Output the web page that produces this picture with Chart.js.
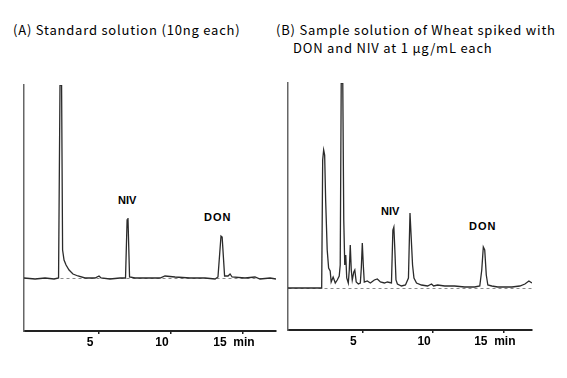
<!DOCTYPE html>
<html>
<head>
<meta charset="utf-8">
<script src="https://cdn.jsdelivr.net/npm/chart.js@4.4.1/dist/chart.umd.min.js"></script>
<style>
  body { margin: 0; background: #fff; width: 567px; height: 378px; position: relative; overflow: hidden; }
  canvas { position: absolute; top: 0; }
  #chartA { left: 0; }
  #chartB { left: 283px; }
  .title { position: absolute; font-family: "Noto Sans CJK JP", "DejaVu Sans", sans-serif; font-size: 13px; line-height: 18px; letter-spacing: 0.8px; color: #000; white-space: nowrap; }
  .peak { position: absolute; font-family: "Liberation Sans", Arial, sans-serif; font-weight: bold; font-size: 11px; line-height: 11px; color: #000; white-space: nowrap; }
</style>
</head>
<body>
<div class="title" style="left:13px; top:21px;">(A) Standard solution (10ng each)</div>
<div class="title" style="left:276px; top:21px;">(B) Sample solution of Wheat spiked with</div>
<div class="title" style="left:293px; top:39px;">DON and NIV at 1 μg/mL each</div>
<div class="peak" style="left:118px; top:195px;">NIV</div>
<div class="peak" style="left:204px; top:212px; letter-spacing:1px;">DON</div>
<div class="peak" style="left:381px; top:206px;">NIV</div>
<div class="peak" style="left:469px; top:221px; letter-spacing:1px;">DON</div>
<canvas id="chartA" width="283" height="378"></canvas>
<canvas id="chartB" width="284" height="378"></canvas>
<script>
// x axis ticks (min)
const tickValues = [5, 10, 15];
const tickLabels = ["5", "10", "15  min"];

// (A) standard solution trace: retention time (min) / response
const timeA = [-0.21, 0.56, 1.25, 1.88, 2.19, 2.29, 2.40, 2.47, 2.57, 2.71, 2.92, 3.19, 3.54, 4.03,
  4.72, 5.00, 5.14, 5.76, 6.46, 6.84, 6.95, 7.01, 7.12, 7.50, 8.19, 9.24, 9.58, 10.28, 11.32,
  12.36, 13.06, 13.26, 13.47, 13.55, 13.72, 13.96, 14.10, 14.24, 15.14, 15.83, 16.18, 16.88, 17.29];
const signalA = [0, -1, 0, -1, 0, 193, 193, 28, 18, 13, 8, 4, 2, 0,
  0, 2, 0, -1, 0, 0, 58, 60, 1, 0, 0, 0, 2, 1, 0,
  0, -1, 1, 42, 41, 2, 2, 4, 1, 0, 1, -1, 0, -1];

// (B) spiked wheat sample trace
const timeB = [-0.25, 0.53, 1.60, 2.13, 2.20, 2.27, 2.34, 2.41, 2.52, 2.62, 2.73, 2.80, 2.94, 3.09,
  3.23, 3.37, 3.44, 3.51, 3.62, 3.69, 3.76, 3.83, 3.90, 4.01, 4.08, 4.15, 4.22, 4.29, 4.40,
  4.47, 4.57, 4.72, 4.86, 4.93, 5.00, 5.07, 5.14, 5.35, 5.57, 5.85, 6.06, 6.28, 6.56, 6.77,
  7.06, 7.16, 7.23, 7.30, 7.38, 7.48, 7.77, 8.05, 8.26, 8.37, 8.44, 8.55, 8.65, 8.83, 9.18,
  9.61, 9.89, 10.04, 10.32, 10.82, 11.52, 12.23, 12.94, 13.30, 13.44, 13.55, 13.65, 13.76,
  13.87, 14.15, 14.57, 15.07, 15.57, 16.13, 16.49, 16.77, 16.99];
const signalB = [0, 0, 0, 0, 128, 138, 133, 88, 38, 20, 17, 6, 11, 5,
  8, 12, 23, 205, 205, 68, 23, 33, 10, 5, 18, 43, 18, 8, 16,
  18, 6, 4, 5, 20, 45, 23, 6, 7, 5, 8, 9, 6, 5, 6,
  5, 58, 61, 38, 8, 4, 2, 3, 10, 75, 75, 23, 10, 5, 3,
  2, 4, 2, 3, 2, 2, 1, 1, 2, 18, 41, 38, 13,
  3, 2, 1, 1, 1, 2, 4, 7, 5];

function makeChart(canvasId, times, signal, xRange, yRange, pad) {
  const points = times.map(function (t, i) { return { x: t, y: signal[i] }; });
  return new Chart(document.getElementById(canvasId), {
    type: 'scatter',
    data: {
      datasets: [{
        data: points,
        showLine: true,
        pointRadius: 0,
        borderColor: '#2b2b2b',
        borderWidth: 1.3,
        tension: 0
      }]
    },
    options: {
      responsive: false,
      animation: false,
      layout: { padding: pad },
      plugins: { legend: { display: false }, tooltip: { enabled: false } },
      scales: {
        x: {
          type: 'linear',
          min: xRange[0],
          max: xRange[1],
          afterBuildTicks: function (scale) {
            scale.ticks = tickValues.map(function (v) { return { value: v }; });
          },
          afterFit: function (scale) { scale.height = 20; },
          ticks: {
            autoSkip: false,
            maxRotation: 0,
            padding: 1,
            labelOffset: -9,
            color: '#000',
            font: { family: 'Liberation Sans', weight: 'bold', size: 12 },
            callback: function (value, index) { return tickLabels[index]; }
          },
          grid: { drawOnChartArea: false, drawTicks: true, tickLength: 3, color: '#222', lineWidth: 1.5 },
          border: { display: true, color: '#222', width: 2 }
        },
        y: {
          min: yRange[0],
          max: yRange[1],
          afterBuildTicks: function (scale) { scale.ticks = [{ value: 0 }]; },
          afterFit: function (scale) { scale.width = 0; },
          ticks: { display: false },
          grid: { drawTicks: false, color: '#8a8a8a', lineWidth: 1 },
          border: { display: true, color: '#666', width: 1.5, dash: [3, 3] }
        }
      }
    }
  });
}

// chart area A: x 24..276, y 85..331 ; B: x 288..532, y 83..330
makeChart('chartA', timeA, signalA, [-0.21, 17.29], [-53, 193], { left: 24, right: 7, top: 85, bottom: 27 });
makeChart('chartB', timeB, signalB, [-0.25, 16.99], [-42, 205], { left: 5, right: 35, top: 83, bottom: 28 });
</script>
</body>
</html>
